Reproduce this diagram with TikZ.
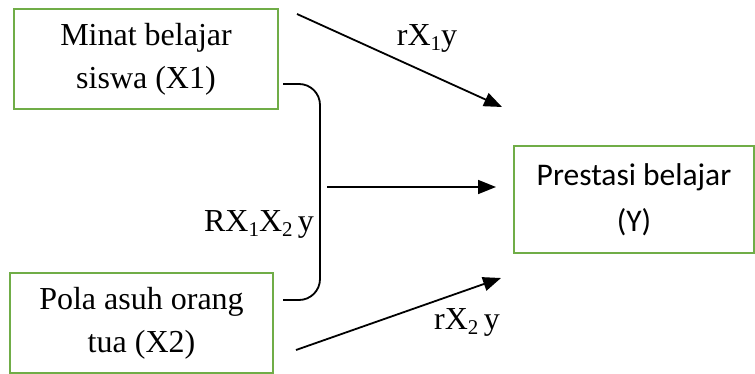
\documentclass[tikz,border=0pt]{standalone}
\usepackage{fontspec}
\setmainfont{Liberation Serif}
\newfontfamily\calfont{Carlito}
\usetikzlibrary{arrows.meta}
\definecolor{boxgreen}{RGB}{112,173,71}
\newcommand{\subidx}[1]{\raisebox{-0.17em}{\fontsize{21}{21}\selectfont #1}}

\begin{document}
\begin{tikzpicture}[x=1pt, y=-1pt]
            \tikzstyle{box}=[draw=boxgreen,line width=2.2pt,rectangle,align=center,inner sep=0pt,font=\fontsize{32}{43}\selectfont]
            \tikzstyle{lbl}=[inner sep=0pt,font=\fontsize{32}{43}\selectfont]
            \tikzstyle{arr}=[line width=1.8pt,-{Triangle[length=18pt,width=14pt]}]
            \useasboundingbox (0,0) rectangle (755,374);
            \node[box,minimum width=264pt,minimum height=100pt] (X_1) at (146,59)  {Minat belajar\\siswa (X1)};
            \node[box,minimum width=263pt,minimum height=100pt] (X_2) at (141.5,323)  {Pola asuh orang\\tua (X2)};
            \node[box,minimum width=240pt,minimum height=107pt,font=\calfont\fontsize{31.5}{46}\selectfont] (Y) at (634,199.5)  {Prestasi belajar\\(Y)};

            \coordinate (A_1) at (297,14);
            \coordinate (B_1) at (502,107);
            \coordinate (A_3) at (327,187);
            \coordinate (B_3) at (496,187);
            \coordinate (A_2) at (296,350);
            \coordinate (B_2) at (501,278);
            \coordinate (K_1) at (283,84);
            \coordinate (K_2) at (320,84);
            \coordinate (K_3) at (320,300);
            \coordinate (K_4) at (283,300);

            \draw[arr] (A_1) -- (B_1);
            \draw[arr] (A_3) -- (B_3);
            \draw[arr] (A_2) -- (B_2);
            \draw[line width=1.8pt,rounded corners=21pt] (K_1) -- (K_2) -- (K_3) -- (K_4);

            \node[lbl] (L_1) at (427,38) {rX\subidx{1}y};
            \node[lbl] (L_3) at (259,224) {RX\subidx{1}X\subidx{2}\,y};
            \node[lbl] (L_2) at (467,322) {rX\subidx{2}\,y};
        \end{tikzpicture}
\end{document}
